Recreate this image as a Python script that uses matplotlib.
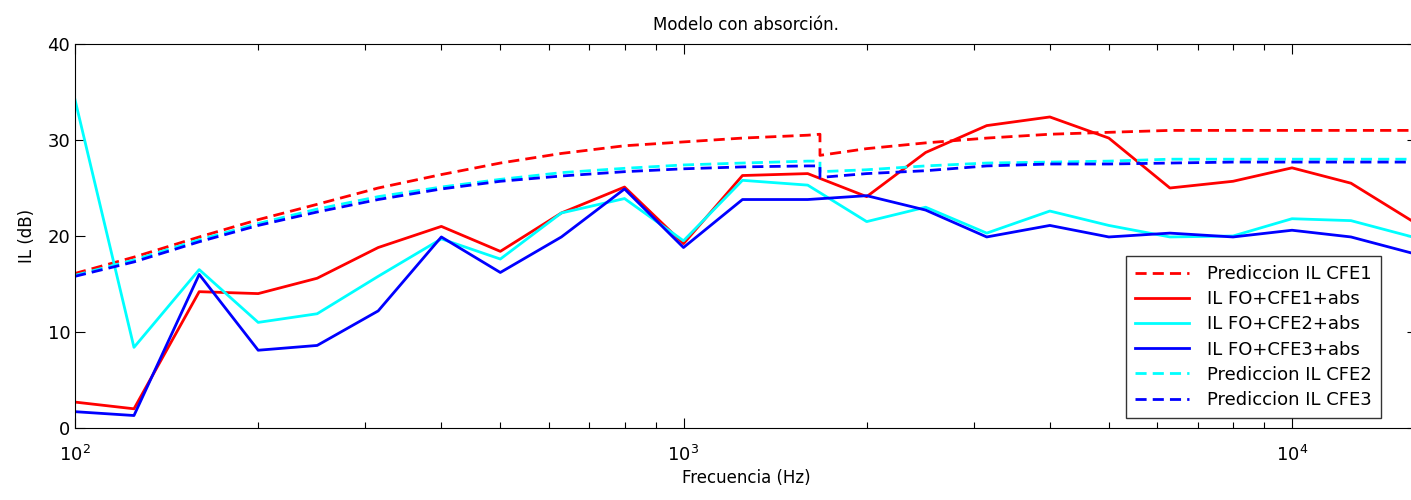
import matplotlib
matplotlib.use("Agg")
import matplotlib.pyplot as plt
from matplotlib.ticker import LogLocator, NullFormatter

# third-octave band centres (Hz)
freq = [100, 125, 160, 200, 250, 315, 400, 500, 630, 800, 1000, 1250, 1600,
        2000, 2500, 3150, 4000, 5000, 6300, 8000, 10000, 12500, 16000]

# measured insertion loss with absorption (dB)
il_cfe1_abs = [2.7, 2.0, 14.2, 14.0, 15.6, 18.8, 21.0, 18.4, 22.4, 25.1, 19.2,
               26.3, 26.5, 24.1, 28.7, 31.5, 32.4, 30.2, 25.0, 25.7, 27.1, 25.5, 21.3]
il_cfe2_abs = [34.2, 8.4, 16.5, 11.0, 11.9, 15.8, 19.7, 17.6, 22.4, 23.9, 19.5,
               25.8, 25.3, 21.5, 23.0, 20.3, 22.6, 21.1, 19.9, 20.0, 21.8, 21.6, 19.8]
il_cfe3_abs = [1.7, 1.3, 16.0, 8.1, 8.6, 12.2, 19.9, 16.2, 19.9, 24.9, 18.8,
               23.8, 23.8, 24.2, 22.7, 19.9, 21.1, 19.9, 20.3, 19.9, 20.6, 19.9, 18.1]

# predicted curves, with the drop at ~1676 Hz
freq_pred = [100, 125, 160, 200, 250, 315, 400, 500, 630, 800, 1000, 1250, 1600,
             1676, 1676, 2000, 2500, 3150, 4000, 5000, 6300, 8000, 10000, 12500, 16000]
pred_cfe1 = [16.1, 17.8, 19.9, 21.7, 23.3, 25.0, 26.4, 27.6, 28.6, 29.4, 29.8,
             30.2, 30.5, 30.6, 28.4, 29.1, 29.7, 30.2, 30.6, 30.8, 31.0, 31.0, 31.0, 31.0, 31.0]
pred_cfe2 = [15.9, 17.5, 19.6, 21.3, 22.8, 24.1, 25.1, 25.9, 26.6, 27.05, 27.4,
             27.6, 27.8, 27.8, 26.7, 26.9, 27.3, 27.6, 27.7, 27.8, 28.0, 28.0, 28.0, 28.0, 28.0]
pred_cfe3 = [15.8, 17.3, 19.4, 21.1, 22.5, 23.8, 24.9, 25.7, 26.25, 26.7, 27.0,
             27.2, 27.3, 27.3, 26.1, 26.5, 26.8, 27.3, 27.5, 27.5, 27.6, 27.7, 27.7, 27.7, 27.7]

plt.rcParams['font.family'] = ['DejaVu Sans']

fig = plt.figure(figsize=(14.11, 5.0), dpi=100)
# the right edge of the axes runs just past the figure border
ax = fig.add_axes([75 / 1411, 72 / 500, 1342 / 1411, 384 / 500])

lw = 2.0
dash = (0, (4, 2.2))
ax.plot(freq_pred, pred_cfe1, color=(1, 0, 0), lw=lw, linestyle=dash, label='Prediccion IL CFE1')
ax.plot(freq, il_cfe1_abs, color=(1, 0, 0), lw=lw, label='IL FO+CFE1+abs')
ax.plot(freq, il_cfe2_abs, color=(0, 1, 1), lw=lw, label='IL FO+CFE2+abs')
ax.plot(freq, il_cfe3_abs, color=(0, 0, 1), lw=lw, label='IL FO+CFE3+abs')
ax.plot(freq_pred, pred_cfe2, color=(0, 1, 1), lw=lw, linestyle=dash, label='Prediccion IL CFE2')
ax.plot(freq_pred, pred_cfe3, color=(0, 0, 1), lw=lw, linestyle=dash, label='Prediccion IL CFE3')

ax.set_xscale('log')
ax.set_xlim(100, 10 ** (2 + 1342 / 608.5))
ax.set_ylim(0, 40)
ax.set_yticks([0, 10, 20, 30, 40])
ax.xaxis.set_major_locator(LogLocator(base=10))
ax.xaxis.set_minor_locator(LogLocator(base=10, subs=range(2, 10)))
ax.xaxis.set_minor_formatter(NullFormatter())
ax.tick_params(which='both', direction='in', top=True, right=True, labelsize=13)
ax.tick_params(which='major', length=7, width=0.8)
ax.tick_params(which='minor', length=4, width=0.8)
ax.tick_params(axis='x', which='major', pad=12)

ax.set_title('Modelo con absorción.', fontsize=12, pad=10)
ax.set_xlabel('Frecuencia (Hz)', fontsize=12, labelpad=3)
ax.set_ylabel('IL (dB)', fontsize=12, labelpad=8)

leg = ax.legend(loc='lower right', bbox_to_anchor=(0.973, 0.026), borderaxespad=0,
                fontsize=13, frameon=True, fancybox=False, edgecolor='black',
                handlelength=3.0, labelspacing=0.4, borderpad=0.5, handletextpad=1.0)
leg.get_frame().set_linewidth(1.0)

fig.savefig('out.png', dpi=100)
